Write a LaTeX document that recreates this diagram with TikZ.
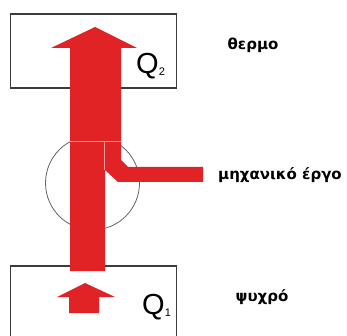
\documentclass[tikz,border=0pt]{standalone}
\usepackage{fontspec}
\setmainfont{Liberation Sans}
\newfontfamily\greekfont{DejaVu Sans}
\definecolor{hotred}{RGB}{226,35,38}
\definecolor{boxline}{RGB}{60,60,60}
\definecolor{ringline}{RGB}{100,100,100}
\begin{document}
\begin{tikzpicture}[x=1pt,y=-1pt,
  reservoir/.style={draw=boxline,line width=1.1pt,inner sep=0pt,minimum width=166pt},
  ring/.style={circle,draw=ringline,line width=0.8pt,inner sep=0pt,minimum size=94pt},
  side/.style={font=\greekfont\bfseries\fontsize{15}{15}\selectfont,inner sep=0pt},
  heat/.style={inner sep=0pt,anchor=base west},
  flow/.style={fill=hotred,draw=none},
  seam/.style={draw=hotred!45!white,line width=0.4pt}]
\useasboundingbox (0,0) rectangle (347,336);
\clip (0,0) rectangle (347,336);
\fill[white] (0,0) rectangle (347,336);
% reservoirs and engine
\node[reservoir,minimum height=74pt] (hot) at (93.5,51) {};
\node[reservoir,minimum height=80pt] (cold) at (93.5,306) {};
\node[ring] (engine) at (92.5,183) {};
% big arrow with work branch
\path[flow] (95,27) -- (137,48) -- (121,48) -- (121,160) -- (128,167) -- (203,167)
  -- (203,182) -- (118,182) -- (105,170) -- (105,271) -- (70,271) -- (70,48)
  -- (51,48) -- cycle;
\draw[seam] (70,141) -- (121,141);
\draw[seam] (104,141) -- (104,170);
% small arrow in cold reservoir
\path[flow] (85,283) -- (115,297) -- (99,297) -- (99,313) -- (69,313) -- (69,297)
  -- (57,297) -- cycle;
% heat labels
\node[heat] (q2) at (136,74) {\fontsize{29}{29}\selectfont Q\raisebox{-2pt}{\fontsize{11}{11}\selectfont 2}};
\node[heat] (q1) at (142,314) {\fontsize{29}{29}\selectfont Q\raisebox{-2pt}{\fontsize{11}{11}\selectfont 1}};
% side labels
\node[side] (hotlabel) at (253,45) {θερμο};
\node[side] (worklabel) at (280,175) {μηχανικό έργο};
\node[side] (coldlabel) at (262,297) {ψυχρό};
\end{tikzpicture}
\end{document}
